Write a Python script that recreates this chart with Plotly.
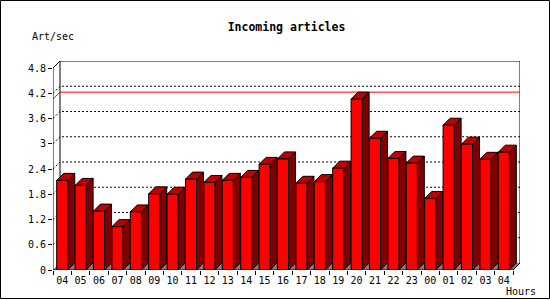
import plotly.graph_objects as go

# ---- data ----
hours = ["04", "05", "06", "07", "08", "09", "10", "11", "12", "13", "14", "15", "16",
         "17", "18", "19", "20", "21", "22", "23", "00", "01", "02", "03", "04"]
values = [2.13, 2.01, 1.40, 1.03, 1.38, 1.81, 1.80, 2.16, 2.08, 2.13, 2.20, 2.51, 2.64,
          2.06, 2.10, 2.42, 4.06, 3.13, 2.65, 2.54, 1.70, 3.44, 2.99, 2.63, 2.80]
y_ticks = [0, 0.6, 1.2, 1.8, 2.4, 3.0, 3.6, 4.2, 4.8]
y_tick_text = ["0", "0.6", "1.2", "1.8", "2.4", "3", "3.6", "4.2", "4.8"]
max_value = max(values)

# ---- geometry / style ----
W, H = 550, 300
ML, MR, MT, MB = 53, 30, 61, 30
n = len(values)
ymax = y_ticks[-1]
plot_w = W - ML - MR
plot_h = H - MT - MB
DEPTH_PX = 7
px_x = (plot_w - DEPTH_PX) / n
px_y = (plot_h - DEPTH_PX) / ymax
dx = DEPTH_PX / px_x
dy = DEPTH_PX / px_y
bar_off = 0.2
bar_w = 0.6

FRONT = "#ff0000"
TOP = "#c00000"
SIDE = "#800000"
FLOOR = "#808080"
MONO = "DejaVu Sans Mono"

fig = go.Figure()


def poly_trace(polys, fill, line_color="black", width=1):
    xs, ys = [], []
    for p in polys:
        for (x, y) in p:
            xs.append(x)
            ys.append(y)
        xs.append(p[0][0]); ys.append(p[0][1])
        xs.append(None); ys.append(None)
    return go.Scatter(x=xs, y=ys, mode="lines", fill="toself", fillcolor=fill,
                      line=dict(color=line_color, width=width), hoverinfo="skip",
                      showlegend=False)


def line_trace(segs, color="black", width=1, dash="solid"):
    xs, ys = [], []
    for s in segs:
        for (x, y) in s:
            xs.append(x); ys.append(y)
        xs.append(None); ys.append(None)
    return go.Scatter(x=xs, y=ys, mode="lines", line=dict(color=color, width=width, dash=dash),
                      hoverinfo="skip", showlegend=False)


# floor
fig.add_trace(poly_trace([[(0, 0), (n, 0), (n + dx, dy), (dx, dy)]], FLOOR, line_color=FLOOR, width=0.5))

# back frame
fig.add_trace(line_trace([[(dx, dy), (dx, ymax + dy), (n + dx, ymax + dy), (n + dx, dy)]]))

# dotted grid on back wall
grid_segs = []
for v in y_ticks[1:-1]:
    grid_segs.append([(0, v), (dx, v + dy), (n + dx, v + dy)])
fig.add_trace(line_trace(grid_segs, dash="2px,2px"))

# max line (red)
fig.add_trace(line_trace([[(0, max_value), (dx, max_value + dy), (n + dx, max_value + dy)]],
                         color="#ff0000"))

# bars
fronts, tops, sides = [], [], []
for i, v in enumerate(values):
    xl = i + bar_off
    xr = xl + bar_w
    fronts.append([(xl, 0), (xl, v), (xr, v), (xr, 0)])
    tops.append([(xl, v), (xr, v), (xr + dx, v + dy), (xl + dx, v + dy)])
    sides.append([(xr, 0), (xr, v), (xr + dx, v + dy), (xr + dx, dy)])
fig.add_trace(poly_trace(sides, SIDE))
fig.add_trace(poly_trace(tops, TOP))
fig.add_trace(poly_trace(fronts, FRONT))

# front axes
fig.add_trace(line_trace([[(dx, ymax + dy), (0, ymax), (0, 0), (n, 0), (n + dx, dy)]]))

fig.update_layout(
    width=W, height=H,
    margin=dict(l=ML, r=MR, t=MT, b=MB, pad=0),
    paper_bgcolor="white", plot_bgcolor="white",
    showlegend=False,
    title=dict(text="Incoming articles", x=0.5, xanchor="center", xref="paper",
               y=1 - 26.7 / H, yanchor="middle", yref="container",
               font=dict(family=MONO, size=11.5, color="black", weight="bold")),
    xaxis=dict(range=[0, n + dx], showgrid=False, zeroline=False, showline=False,
               tickmode="array", tickvals=[i + 0.5 for i in range(n)], ticktext=hours,
               ticks="outside", ticklen=1, tickcolor="rgba(0,0,0,0)",
               tickfont=dict(family=MONO, size=10, color="black"),
               minor=dict(ticks="outside", ticklen=4, tickcolor="black", tickwidth=1,
                          tickmode="linear", tick0=0, dtick=1, showgrid=False),
               fixedrange=True),
    yaxis=dict(range=[0, ymax + dy], showgrid=False, zeroline=False, showline=False,
               tickmode="array", tickvals=y_ticks, ticktext=y_tick_text,
               ticks="outside", ticklen=4, tickcolor="black", tickwidth=1,
               tickfont=dict(family=MONO, size=10, color="black"),
               fixedrange=True),
    annotations=[
        dict(text="Art/sec", xref="paper", yref="paper",
             x=(30 - ML) / plot_w, y=(H - MB - 36.7) / plot_h,
             xanchor="left", yanchor="middle", showarrow=False,
             font=dict(family=MONO, size=10, color="black")),
        dict(text="Hours", xref="paper", yref="paper",
             x=(504 - ML) / plot_w, y=(H - MB - 291.7) / plot_h,
             xanchor="left", yanchor="middle", showarrow=False,
             font=dict(family=MONO, size=10, color="black")),
    ],
    shapes=[dict(type="rect", xref="paper", yref="paper",
                 x0=(0.5 - ML) / plot_w, x1=(549.5 - ML) / plot_w,
                 y0=(H - MB - 298.5) / plot_h, y1=(H - MB - 0.5) / plot_h,
                 line=dict(color="black", width=1), fillcolor="rgba(0,0,0,0)",
                 layer="above")],
)

fig.write_html("out.html", config={"displayModeBar": False})
